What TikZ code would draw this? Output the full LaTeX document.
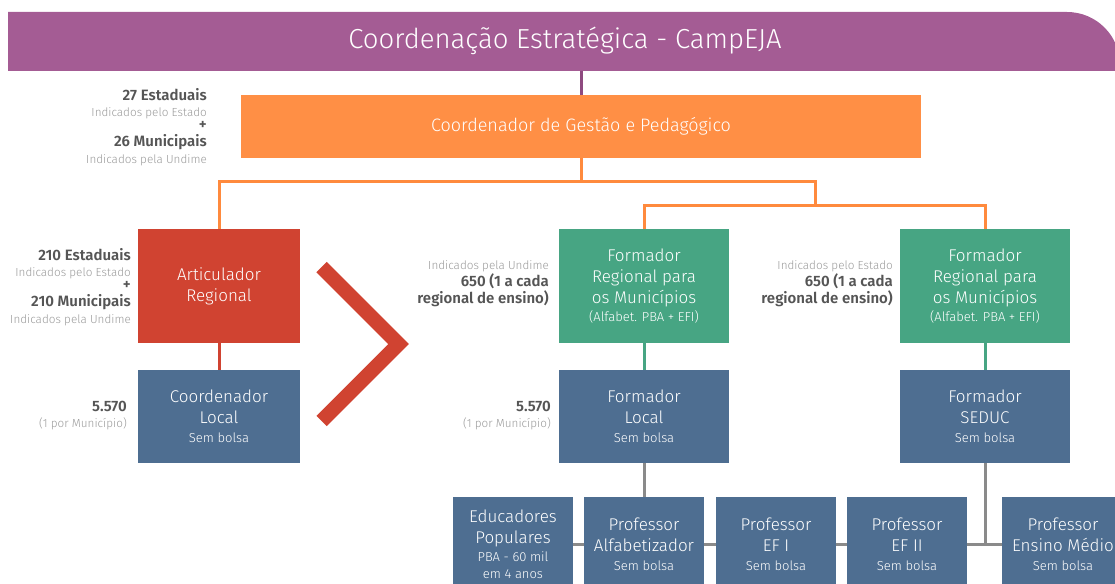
\documentclass[tikz,border=0pt]{standalone}
\usepackage{fontspec}
\setmainfont{Fira Sans}[UprightFont={* Light}]

\definecolor{roxo}{HTML}{A45C94}
\definecolor{roxoesc}{HTML}{8E4A80}
\definecolor{laranja}{HTML}{FF8F45}
\definecolor{laranjalin}{HTML}{FF8A3D}
\definecolor{vermelho}{HTML}{D04331}
\definecolor{azul}{HTML}{4E6E91}
\definecolor{verde}{HTML}{47A583}
\definecolor{cinzalin}{HTML}{8A8A8A}
\definecolor{textoesc}{HTML}{555555}
\definecolor{textoclaro}{HTML}{9A9A9A}

\newcommand{\pequeno}{\fontsize{13}{15}\selectfont}
\newcommand{\destaque}[1]{{\bfseries\color{textoesc}\fontsize{15}{16}\selectfont #1}}

\begin{document}
\begin{tikzpicture}[x=1pt,y=-1pt,
    caixa/.style={minimum width=170, minimum height=93, inner sep=0, align=center,
        text=white, font=\fontsize{17}{21}\selectfont},
    nota/.style={anchor=east, inner sep=0, align=right, text=textoclaro,
        font=\fontsize{11.7}{16}\selectfont},
    ligacao/.style={line width=3}]
    \useasboundingbox (0,0) rectangle (1115,583);

    % Coordenação
    \fill [roxo] (8,12) -- (1067,12) arc[start angle=-90, end angle=0, radius=53]
        -- (1120,71) -- (8,71) -- cycle;
    \node [text=white, font=\fontsize{27.5}{30}\selectfont] (titulo) at (565,41)
        {Coordenação Estratégica - CampEJA};
    \coordinate (basetitulo) at (581,71);

    % Gestão
    \node [caixa, fill=laranja, minimum width=680, minimum height=63,
        font=\fontsize{18}{21}\selectfont] (gestao) at (581,126.5)
        {Coordenador de Gestão e Pedagógico};
    \node [nota] (notagestao) at (207,127)
        {\destaque{27 Estaduais}\\[0pt] Indicados pelo Estado\\[-3pt]
         \destaque{+}\\[1pt] \destaque{26 Municipais}\\[1pt] Indicados pela Undime};

    % Regional
    \node [caixa, fill=vermelho, minimum width=162, minimum height=114] (artic) at (219,286)
        {Articulador\\Regional};
    \node [caixa, fill=verde, minimum height=114] (formregmun) at (644,286)
        {Formador\\Regional para\\os Municípios\\[-3pt]{\pequeno(Alfabet. PBA + EFI)}};
    \node [caixa, fill=verde, minimum height=114] (formregest) at (985,286)
        {Formador\\Regional para\\os Municípios\\[-3pt]{\pequeno(Alfabet. PBA + EFI)}};
    \node [nota] (notaartic) at (131,287)
        {\destaque{210 Estaduais}\\[0pt] Indicados pelo Estado\\[-3pt]
         \destaque{+}\\[1pt] \destaque{210 Municipais}\\[1pt] Indicados pela Undime};
    \node [nota, font=\fontsize{11.7}{17}\selectfont] (notaundime) at (549,284)
        {Indicados pela Undime\\ \destaque{650 (1 a cada}\\ \destaque{regional de ensino)}};
    \node [nota, font=\fontsize{11.7}{17}\selectfont] (notaestado) at (893,284)
        {Indicados pelo Estado\\ \destaque{650 (1 a cada}\\ \destaque{regional de ensino)}};

    % Local
    \node [caixa, fill=azul, minimum width=162] (coordlocal) at (219,416.5)
        {Coordenador\\Local\\[-2pt]{\pequeno Sem bolsa}};
    \node [caixa, fill=azul] (formlocal) at (644,416.5)
        {Formador\\Local\\[-2pt]{\pequeno Sem bolsa}};
    \node [caixa, fill=azul] (formseduc) at (985,416.5)
        {Formador\\SEDUC\\[-2pt]{\pequeno Sem bolsa}};
    \node [nota] (notalocal) at (127,416)
        {\destaque{5.570}\\ (1 por Município)};
    \node [nota] (notalocal2) at (551,416)
        {\destaque{5.570}\\ (1 por Município)};

    % Professores
    \node [caixa, fill=azul, minimum width=120, minimum height=94] (educ) at (513,544)
        {Educadores\\Populares\\[-3pt]{\pequeno PBA - 60 mil}\\[-4pt]
         {\pequeno em 4 anos}};
    \node [caixa, fill=azul, minimum width=120, minimum height=94] (profalf) at (644,544)
        {Professor\\Alfabetizador\\[-2pt]{\pequeno Sem bolsa}};
    \node [caixa, fill=azul, minimum width=120, minimum height=94] (profef1) at (776,544)
        {Professor\\EF I\\[-2pt]{\pequeno Sem bolsa}};
    \node [caixa, fill=azul, minimum width=120, minimum height=94] (profef2) at (907,544)
        {Professor\\EF II\\[-2pt]{\pequeno Sem bolsa}};
    \node [caixa, fill=azul, minimum width=122, minimum height=94] (profem) at (1063,544)
        {Professor\\Ensino Médio\\[-2pt]{\pequeno Sem bolsa}};

    % Seta
    \draw [vermelho, line width=14.5, miter limit=4] (321.5,267) -- (398.5,344) -- (321.5,421);

    % Ligações
    \coordinate (junta1) at (581,181);
    \coordinate (junta2) at (815,205);
    \draw [ligacao, roxoesc] (basetitulo) -- (gestao.north);
    \draw [ligacao, laranjalin] (gestao.south) -- (junta1);
    \draw [ligacao, laranjalin] (artic.north) |- (junta1) -| (junta2);
    \draw [ligacao, laranjalin] (formregmun.north) |- (junta2) -| (formregest.north);
    \draw [ligacao, vermelho] (artic) -- (coordlocal);
    \draw [ligacao, verde] (formregmun) -- (formlocal);
    \draw [ligacao, verde] (formregest) -- (formseduc);
    \draw [ligacao, cinzalin] (formlocal) -- (profalf);
    \draw [ligacao, cinzalin] (educ) -- (profalf);
    \draw [ligacao, cinzalin] (profalf) -- (profef1);
    \draw [ligacao, cinzalin] (profef1) -- (profef2);
    \draw [ligacao, cinzalin] (profef2) -- (profem);
    \draw [ligacao, cinzalin] (formseduc.south) -- (formseduc.south |- profem.west);
\end{tikzpicture}
\end{document}
